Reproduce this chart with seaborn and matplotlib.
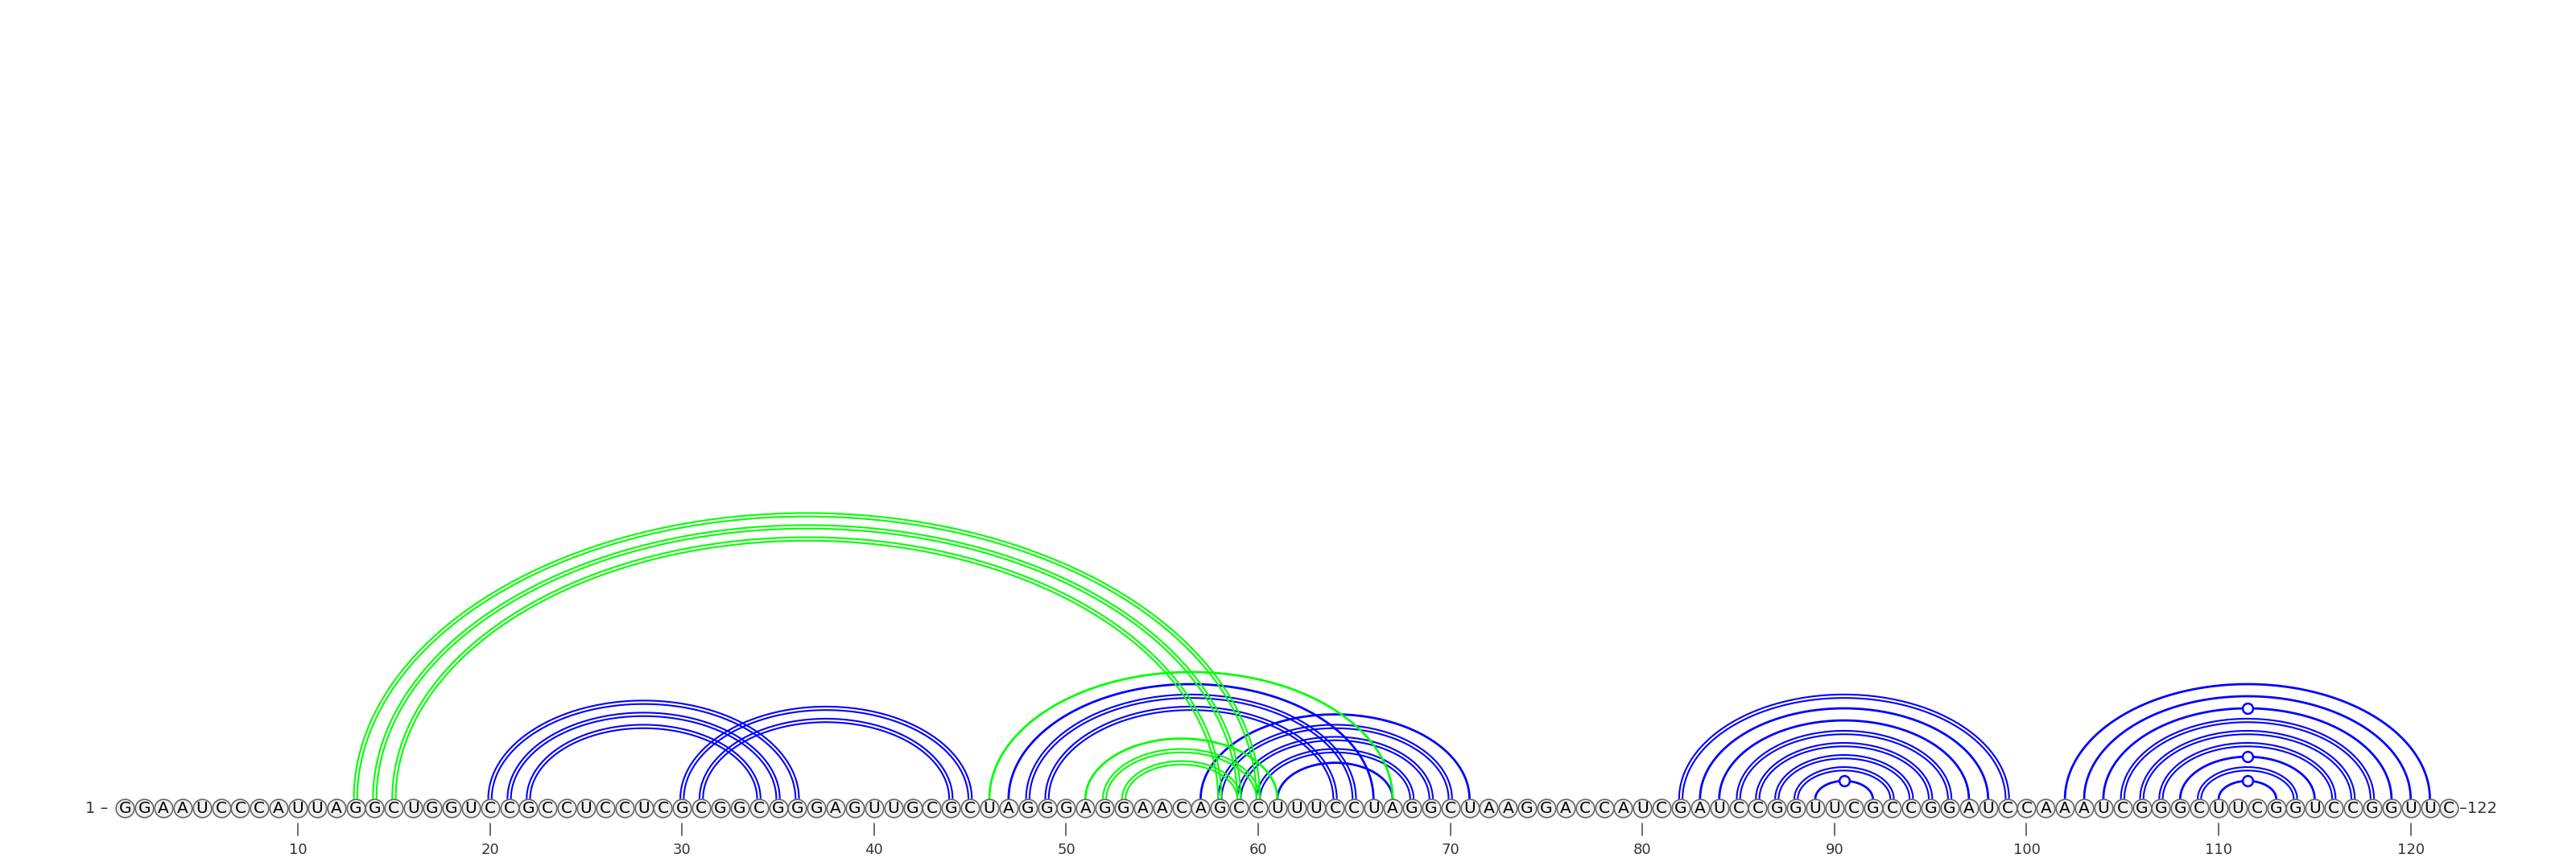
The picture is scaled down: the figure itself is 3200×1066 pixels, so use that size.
import numpy as np
import pandas as pd
import seaborn as sns
sns.set_style('white')
import matplotlib.pyplot as plt

# RNA sequence (122 nt)
sequence = list("GGAAUCCCAUUAGGCUGGUCCGCCUCCUCGCGGCGGGAGUUGCGCUAGGGAGGAACAGCCUUUCCUAGGC"
                "UAAGGACCAUCGAUCCGGUUCGCCGGAUCCAAAUCGGGCUUCGGUCCGGUUC")
positions = list(range(1, len(sequence) + 1))
tick_positions = [10, 20, 30, 40, 50, 60, 70, 80, 90, 100, 110, 120]

# base pairs of the main structure (blue)
blue_i = [20, 21, 22, 30, 31, 47, 48, 49, 57, 58, 59, 60, 61,
          82, 83, 84, 85, 86, 87, 88, 89,
          102, 103, 104, 105, 106, 107, 108, 109, 110]
blue_j = [36, 35, 34, 45, 44, 66, 65, 64, 71, 70, 69, 68, 67,
          99, 98, 97, 96, 95, 94, 93, 92,
          121, 120, 119, 118, 117, 116, 115, 114, 113]

# base pairs of the alternative structure (green)
green_i = [13, 14, 15, 46, 51, 52, 53]
green_j = [60, 59, 58, 67, 61, 60, 59]

BLUE = '#0000ff'
GREEN = '#00ff00'
ASPECT = 0.63   # arc height / half span
Y0 = 0.47       # arcs start on top of the nucleotide circles
D = 0.09        # half gap of the double line used for G-C pairs


def pair_kind(i, j):
    p = {sequence[i - 1], sequence[j - 1]}
    if p == {'G', 'C'}:
        return 'GC'
    if p == {'G', 'U'}:
        return 'GU'
    return 'AU'


def arc_xy(i, j, d=0.0):
    t = np.linspace(0, np.pi, 240)
    c = (i + j) / 2
    half = (j - i) / 2
    x = c - (half + d) * np.cos(t)
    y = Y0 + (ASPECT * half + d) * np.sin(t)
    return x, y


fig = plt.figure(figsize=(32, 10.66), dpi=100)
ax = fig.add_axes([0, 0, 1, 1])
px = 23.86  # pixels per nucleotide
ax.set_xlim(1 - 155.3 / px, 1 - 155.3 / px + 3200 / px)
ax.set_ylim(-62 / px, 1004 / px)
ax.axis('off')

wobble = []
for ii, jj, col in [(blue_i, blue_j, BLUE), (green_i, green_j, GREEN)]:
    for i, j in zip(ii, jj):
        kind = pair_kind(i, j)
        if kind == 'GC':
            for d in (-D, D):
                x, y = arc_xy(i, j, d)
                ax.plot(x, y, color=col, lw=1.5, solid_capstyle='butt', zorder=2)
        else:
            x, y = arc_xy(i, j)
            ax.plot(x, y, color=col, lw=2.0, solid_capstyle='butt', zorder=2)
            if kind == 'GU':
                wobble.append(((i + j) / 2, Y0 + ASPECT * (j - i) / 2, col))

# G-U wobble markers on top of arcs
wb = pd.DataFrame(wobble, columns=['x', 'y', 'c'])
sns.scatterplot(data=wb, x='x', y='y', s=85, color='white', edgecolor=BLUE,
                linewidth=1.8, zorder=4, ax=ax, legend=False)

# nucleotide circles
nt = pd.DataFrame({'pos': positions, 'y': 0.0, 'base': sequence})
sns.scatterplot(data=nt, x='pos', y='y', s=265, color='#f0f0f0', edgecolor='#666666',
                linewidth=1.2, zorder=5, ax=ax, legend=False)
for p, b in zip(positions, sequence):
    ax.text(p, -0.02, b, ha='center', va='center', fontsize=14.5, color='black', zorder=6)

# position ticks
for t in tick_positions:
    ax.plot([t, t], [-0.8, -1.42], color='#444444', lw=1.1, zorder=3)
    ax.text(t, -2.2, str(t), ha='center', va='center', fontsize=13, color='#333333')

ax.text(0.4, -0.02, '1 \u2013 ', ha='right', va='center', fontsize=14, color='#333333')
ax.text(122.55, -0.02, '\u2013122', ha='left', va='center', fontsize=14, color='#333333')

ax.set_xlabel('')
ax.set_ylabel('')
fig.savefig('out.png', dpi=100, facecolor='white')
